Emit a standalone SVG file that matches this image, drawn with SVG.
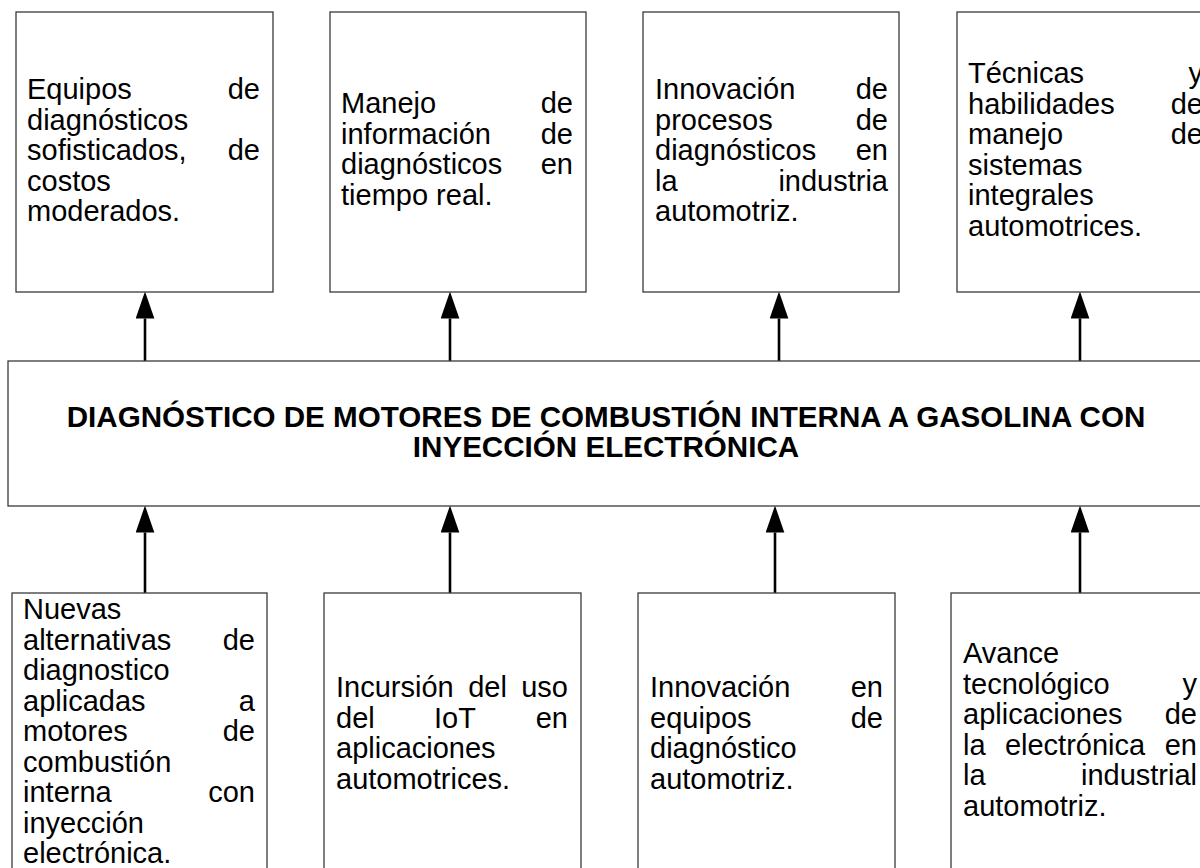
<svg xmlns="http://www.w3.org/2000/svg" width="1200" height="868" viewBox="0 0 1200 868">
<style>
.box{fill:#fff;stroke:#3a3a3a;stroke-width:1.3}
.t{font-family:"Liberation Sans",Arial,sans-serif;font-size:29px;fill:#000}
.e{text-anchor:end}
.m{text-anchor:middle}
.ttl{font-family:"Liberation Sans",Arial,sans-serif;font-size:29.6px;font-weight:bold;fill:#000;text-anchor:middle}
.ln{stroke:#000;stroke-width:2.6;fill:none}
</style>
<defs>
<marker id="ah" markerUnits="userSpaceOnUse" markerWidth="27" markerHeight="19" viewBox="0 0 26 18" refX="0" refY="9" orient="auto">
<path d="M0,0 L26,9 L0,18 Z" fill="#000"/>
</marker>
</defs>
<rect width="1200" height="868" fill="#fff"/>

<g id="connectors">
<line class="ln" x1="145" y1="361" x2="145" y2="318.5" marker-end="url(#ah)"/>
<line class="ln" x1="450" y1="361" x2="450" y2="318.5" marker-end="url(#ah)"/>
<line class="ln" x1="779" y1="361" x2="779" y2="318.5" marker-end="url(#ah)"/>
<line class="ln" x1="1080" y1="361" x2="1080" y2="318.5" marker-end="url(#ah)"/>
<line class="ln" x1="145" y1="593" x2="145" y2="532.5" marker-end="url(#ah)"/>
<line class="ln" x1="450" y1="593" x2="450" y2="532.5" marker-end="url(#ah)"/>
<line class="ln" x1="775" y1="593" x2="775" y2="532.5" marker-end="url(#ah)"/>
<line class="ln" x1="1080" y1="593" x2="1080" y2="532.5" marker-end="url(#ah)"/>
</g>

<g id="center">
<rect class="box" x="8" y="361" width="1196" height="145"/>
<text class="ttl" x="606" y="427">DIAGNÓSTICO DE MOTORES DE COMBUSTIÓN INTERNA A GASOLINA CON</text>
<text class="ttl" x="606" y="457">INYECCIÓN ELECTRÓNICA</text>
</g>

<g id="top1">
<rect class="box" x="16" y="12" width="257" height="280"/>
<text class="t" x="27" y="99">Equipos</text><text class="t e" x="260" y="99">de</text>
<text class="t" x="27" y="129.5">diagnósticos</text>
<text class="t" x="27" y="160">sofisticados,</text><text class="t e" x="260" y="160">de</text>
<text class="t" x="27" y="190.5">costos</text>
<text class="t" x="27" y="221">moderados.</text>
</g>

<g id="top2">
<rect class="box" x="330" y="12" width="256" height="280"/>
<text class="t" x="341" y="113">Manejo</text><text class="t e" x="573" y="113">de</text>
<text class="t" x="341" y="143.5">información</text><text class="t e" x="573" y="143.5">de</text>
<text class="t" x="341" y="174">diagnósticos</text><text class="t e" x="573" y="174">en</text>
<text class="t" x="341" y="204.5">tiempo real.</text>
</g>

<g id="top3">
<rect class="box" x="643" y="12" width="256" height="280"/>
<text class="t" x="655" y="99">Innovación</text><text class="t e" x="888" y="99">de</text>
<text class="t" x="655" y="129.5">procesos</text><text class="t e" x="888" y="129.5">de</text>
<text class="t" x="655" y="160">diagnósticos</text><text class="t e" x="888" y="160">en</text>
<text class="t" x="655" y="190.5">la</text><text class="t e" x="888" y="190.5">industria</text>
<text class="t" x="655" y="221">automotriz.</text>
</g>

<g id="top4">
<rect class="box" x="957" y="12" width="260" height="280"/>
<text class="t" x="968" y="83">Técnicas</text><text class="t e" x="1203" y="83">y</text>
<text class="t" x="968" y="113.5">habilidades</text><text class="t e" x="1203" y="113.5">de</text>
<text class="t" x="968" y="144">manejo</text><text class="t e" x="1203" y="144">de</text>
<text class="t" x="968" y="174.5">sistemas</text>
<text class="t" x="968" y="205">integrales</text>
<text class="t" x="968" y="235.5">automotrices.</text>
</g>

<g id="bottom1">
<rect class="box" x="12" y="593" width="255" height="285"/>
<text class="t" x="23" y="619">Nuevas</text>
<text class="t" x="23" y="649.5">alternativas</text><text class="t e" x="255" y="649.5">de</text>
<text class="t" x="23" y="680">diagnostico</text>
<text class="t" x="23" y="710.5">aplicadas</text><text class="t e" x="255" y="710.5">a</text>
<text class="t" x="23" y="741">motores</text><text class="t e" x="255" y="741">de</text>
<text class="t" x="23" y="771.5">combustión</text>
<text class="t" x="23" y="802">interna</text><text class="t e" x="255" y="802">con</text>
<text class="t" x="23" y="832.5">inyección</text>
<text class="t" x="23" y="863">electrónica.</text>
</g>

<g id="bottom2">
<rect class="box" x="324" y="593" width="257" height="285"/>
<text class="t" x="336" y="697">Incursión</text><text class="t m" x="487.5" y="697">del</text><text class="t e" x="568" y="697">uso</text>
<text class="t" x="336" y="727.5">del</text><text class="t m" x="455" y="727.5">IoT</text><text class="t e" x="568" y="727.5">en</text>
<text class="t" x="336" y="758">aplicaciones</text>
<text class="t" x="336" y="788.5">automotrices.</text>
</g>

<g id="bottom3">
<rect class="box" x="638" y="593" width="257" height="285"/>
<text class="t" x="650" y="697">Innovación</text><text class="t e" x="883" y="697">en</text>
<text class="t" x="650" y="727.5">equipos</text><text class="t e" x="883" y="727.5">de</text>
<text class="t" x="650" y="758">diagnóstico</text>
<text class="t" x="650" y="788.5">automotriz.</text>
</g>

<g id="bottom4">
<rect class="box" x="951" y="593" width="258" height="285"/>
<text class="t" x="963" y="663">Avance</text>
<text class="t" x="963" y="693.5">tecnológico</text><text class="t e" x="1197" y="693.5">y</text>
<text class="t" x="963" y="724">aplicaciones</text><text class="t e" x="1197" y="724">de</text>
<text class="t" x="963" y="754.5">la</text><text class="t m" x="1075" y="754.5">electrónica</text><text class="t e" x="1197" y="754.5">en</text>
<text class="t" x="963" y="785">la</text><text class="t e" x="1197" y="785">industrial</text>
<text class="t" x="963" y="815.5">automotriz.</text>
</g>
</svg>
